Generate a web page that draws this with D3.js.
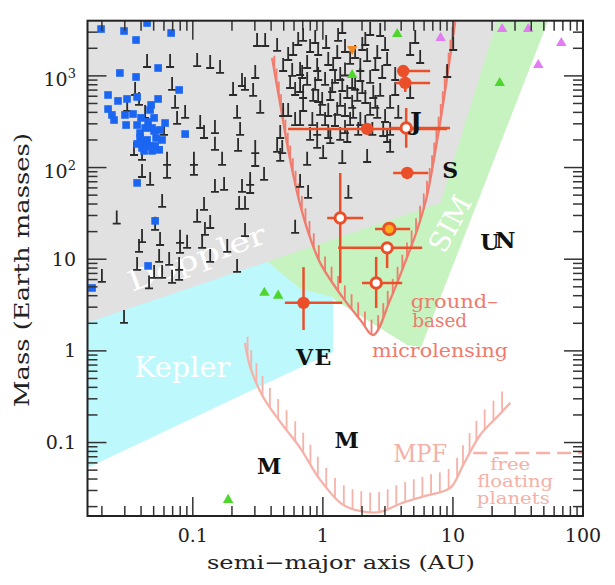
<!DOCTYPE html>
<html><head><meta charset="utf-8">
<script src="https://cdn.jsdelivr.net/npm/d3@7"></script>
<style>body{margin:0;background:#fff}</style>
</head><body>
<svg id="c" width="615" height="585"></svg>
<script>
// ---------------- data (AU, Earth masses) ----------------
const xDomain = [0.0155, 100];
const yDomain = [0.0158, 4000];
const xTickVals = [0.1, 1, 10, 100];
const xTickLabels = ["0.1", "1", "10", "100"];
const yTickVals = [0.1, 1, 10, 100, 1000];
const yTickBase = ["0.1", "1", "10", "10", "10"];
const yTickSup = ["", "", "", "2", "3"];

// Doppler (grey), SIM (green), Kepler (cyan) sensitivity regions
const dopplerA = [0.0155, 21.9, 8.0, 0.0155];
const dopplerM = [4000, 4000, 41, 2.04];
const simA = [0.194, 1.2, 4.45, 5.7, 54, 13.6];
const simM = [3.6, 3.69, 1.16, 1.1, 4000, 4000];
const keplerA = [0.0155, 1.2, 1.2, 0.668, 0.373, 0.0155];
const keplerM = [0.053, 0.975, 3.88, 4.75, 9.46, 3.6];

// ground-based microlensing sensitivity curve
const mlCurveA = [0.407, 0.478, 0.541, 0.646, 0.77, 0.953, 1.41, 1.94, 2.44, 3.29, 4.3, 5.31, 6.34, 7.57, 8.73, 10.4];
const mlCurveM = [1567, 425, 156, 47.8, 19.9, 9.12, 3.88, 2.18, 1.49, 3.6, 9.35, 20.9, 50.3, 200, 702, 3870];
// MPF sensitivity curve
const mpfA = [0.252, 0.276, 0.347, 0.47, 0.668, 0.953, 1.43, 2.12, 2.76, 3.93, 6.12, 9.53, 12.0, 16.2, 21.9, 27.6];
const mpfM = [1.22, 0.669, 0.315, 0.168, 0.0875, 0.0392, 0.0209, 0.0175, 0.0175, 0.0215, 0.0262, 0.0321, 0.0571, 0.121, 0.191, 0.271];
// free-floating planets limit
const freeFloatA = [14.3, 100];
const freeFloatM = [0.077, 0.077];

// radial-velocity planets (minimum masses)
const rvPlanets = [
 [0.0445,1250],[0.0669,1250],[0.108,1280],[0.036,619],[0.0386,482],[0.0693,702],[0.0731,447],[0.0873,348],
 [0.0757,299],[0.0313,414],[0.043,348],[0.114,270],[0.122,210],[0.0601,227],[0.0353,137],[0.0407,121],
 [0.0634,107],[0.102,107],[0.0407,78.9],[0.047,64.6],[0.0634,77.1],[0.102,83],[0.0581,37.2],[0.026,24.5],
 [0.108,25.5],[0.0513,20.9],[0.0407,15.4],[0.0386,12.0],[0.056,14.3],[0.0798,15.1],[0.0798,11.7],[0.0904,13.3],
 [0.0551,9.35],[0.0658,8.67],[0.0373,7.64],[0.0504,6.25],[0.0581,6.25],[0.0785,7.64],[0.0785,5.95],[0.0693,5.52],
 [0.0461,4.8],[0.02,5.65],[0.0296,2.02],
 [0.136,1219],[0.162,1076],[0.312,2118],[0.36,2118],[0.239,776],[0.204,619],[0.252,702],[0.291,604],[0.302,948],
 [0.33,394],[0.219,348],[0.148,238],[0.231,227],[0.148,156],[0.223,152],[0.302,144],[0.168,107],[0.302,104],
 [0.353,73.3],[0.148,54.2],[0.174,57],[0.239,54.2],[0.276,64.6],[0.276,52.8],[0.122,34.5],[0.227,35.4],[0.252,35.4],
 [0.136,21.9],[0.124,18.4],[0.184,12.0],[0.252,17.9],[0.136,9.35],[0.219,7.27],[0.118,13.3],
 [0.445,1871],[0.591,1690],[0.495,1130],[0.581,998],[0.693,948],[0.495,365],[0.541,365],[0.612,291],[0.47,210],
 [0.487,144],[0.47,118],[0.612,19.4],
 [0.705,2404],[0.873,2285],[1.31,2404],[1.41,2937],[2.31,2793],[2.76,2723],[5.13,2285],
 [0.757,1219],[0.904,1130],[1.10,1315],[1.29,1567],[1.77,1567],[2.19,1452],[2.62,1567],[3.12,1315],[5.6,1382],[4.69,1690],
 [0.757,796],[0.873,702],[1.04,796],[1.24,837],[1.41,684],[1.94,879],[2.31,837],[2.86,948],[1.94,1130],
 [0.842,533],[0.988,482],[1.14,546],[1.36,470],[1.54,574],[1.84,533],[2.12,506],[2.44,574],[2.76,604],[3.29,447],[4.69,574],
 [0.705,414],[0.953,375],[1.10,365],[1.29,375],[1.48,365],[1.71,348],[2.31,375],[2.62,348],
 [0.904,227],[1.10,210],[1.48,238],[2.91,221],[3.29,227],
 [0.541,1490],[0.612,619],[0.705,574],[1.62,291],[1.24,284],
 [0.757,107],[1.005,127],[1.41,112],[2.19,115],[0.904,164],[1.14,185],[1.54,190],[3.12,190],[3.29,148],
 [0.668,61.4],[0.77,46.6],[1.57,46.6],[0.445,148],[9.04,973],[10.05,1915],
 [2.01,1915],[0.92,1690],[1.48,1010],[1.77,702],[0.83,291],[1.94,291],[2.4,227],
 [0.646,2173],[0.798,1822],[1.06,2014],[1.2,1159],[1.48,1822],[1.62,1349],[2.12,2173],[2.53,1159],[3.01,1915],
 [3.6,902],[0.668,667],[0.92,902],[1.18,667],[1.68,738],[2.01,650],[2.53,447],[3.01,314],[3.6,619],
 [0.668,291],[0.798,200],[1.04,291],[1.36,200],[1.87,227],[2.12,270],[0.668,1023],[1.36,902],[0.92,519],
 [1.68,447],[3.8,348],[0.56,738]
];

// transiting planets
const transitPlanets = [
 [0.0197,3245],[0.0296,3090],[0.0445,3775],[0.0366,2463],[0.0681,2937],[0.0541,1219],[0.0275,1076],[0.0366,973],
 [0.0785,702],[0.0223,619],[0.0266,533],[0.0312,560],[0.0373,589],[0.0541,560],[0.0478,482],[0.0223,435],
 [0.0239,375],[0.0248,330],[0.0301,375],[0.0347,384],[0.040,348],[0.0307,291],[0.0373,291],[0.0504,348],
 [0.0612,306],[0.043,270],[0.0504,251],[0.0393,238],[0.0873,232],[0.0373,181],[0.0422,185],[0.0461,172],
 [0.0513,172],[0.0486,152],[0.0422,152],[0.0551,156],[0.0445,200],[0.0522,210],[0.0393,210],[0.0373,68],
 [0.0513,26.2],[0.0453,8.45],[0.0168,4.86],[0.0453,314],[0.056,257],[0.0469,425],[0.058,200],[0.0407,164],[0.0486,270]
];

// other detections
const greenTriangles = [[3.73,2860],[1.68,1023],[22.9,836],[0.355,4.3],[0.453,4.0],[0.187,0.0237]];
const magentaTriangles = [[8.04,2590],[23.9,3245],[37.9,3245],[68.1,2285],[45.3,1315]];
const orangeTriangles = [[1.68,1964]];

// microlensing planets: a, M, aLow, aHigh, mLow, mHigh, style
const mlPlanets = [
 [2.19, 264, 0.54, 9.0, 264, 264, "filled"],
 [4.37, 270, 3.3, 9.5, 164, 446, "open"],
 [4.15, 1130, 3.73, 6.68, 1130, 1130, "filled"],
 [4.3, 837, 3.6, 6.68, 667, 1104, "filled"],
 [4.45, 87.3, 3.47, 6.46, 87.3, 87.3, "filled"],
 [1.36, 28.2, 1.08, 2.04, 5.5, 87, "open"],
 [3.24, 21.4, 2.52, 4.69, 21.4, 21.4, "yellow"],
 [3.12, 13.3, 1.31, 5.8, 8.0, 13.3, "open"],
 [2.57, 5.5, 2.0, 4.07, 2.94, 10.6, "open"],
 [0.71, 3.34, 0.51, 1.41, 1.69, 8.2, "filled"]
];

// solar system planets (positions as drawn)
const solarNames = ["M", "V", "E", "M", "J", "S", "U", "N"];
const solarA = [0.387, 0.723, 1.0, 1.524, 5.2, 9.54, 19.2, 25.3];
const solarM = [0.055, 0.86, 0.86, 0.107, 318, 95.2, 15.4, 16.2];

// ---------------- drawing ----------------
const FONT = "'DejaVu Serif', 'Liberation Serif', serif";
const L = 87.5, R = 583, T = 20.7, B = 516;
const svg = d3.select('#c');
const x = d3.scaleLog().domain(xDomain).range([L, R]);
const y = d3.scaleLog().domain(yDomain).range([B, T]);

svg.append('rect').attr('width', 615).attr('height', 585).attr('fill', '#fff');
svg.append('clipPath').attr('id', 'clip').append('rect')
  .attr('x', L).attr('y', T).attr('width', R - L).attr('height', B - T);
const plot = svg.append('g').attr('clip-path', 'url(#clip)');

const pts = (A, M) => A.map((a, i) => [x(a), y(M[i])]);
function poly(A, M, fill) {
  plot.append('path').attr('d', d3.line()(pts(A, M)) + 'Z').attr('fill', fill);
}
poly(simA, simM, '#c6f3c0');
poly(keplerA, keplerM, '#bdf8fc');
poly(dopplerA, dopplerM, '#e1e1e1');

function label(g, txt, px, py, rot, size, len, opts = {}) {
  const t = g.append('text').attr('transform', `translate(${px},${py}) rotate(${rot})`)
    .attr('font-family', FONT).attr('font-size', size).attr('fill', opts.fill || '#fff')
    .attr('text-anchor', opts.anchor || 'middle')
    .attr('font-weight', opts.weight || 'normal')
    .text(txt);
  if (opts.central) t.attr('dominant-baseline', 'central');
  if (len) t.attr('textLength', len).attr('lengthAdjust', 'spacingAndGlyphs');
  return t;
}
label(plot, 'Doppler', x(0.114), y(8.24), -20, 28, 145);
label(plot, 'Kepler', x(0.0354), y(0.52), 0, 27, 96, {anchor: 'start'});
label(plot, 'SIM', x(9.53), y(24.3), -62, 28, 60, {central: true});

// sensitivity curves with hatching (vertical ticks on the inner side)
const curve = d3.line().curve(d3.curveCatmullRom.alpha(0.5));
function hatched(A, M, color, dxStep, arcStep, len) {
  const p = plot.append('path').attr('d', curve(pts(A, M))).attr('fill', 'none')
    .attr('stroke', color).attr('stroke-width', 2.3);
  const node = p.node(), tot = node.getTotalLength();
  const g = plot.append('g').attr('stroke', color).attr('stroke-width', 1.8);
  let last = node.getPointAtLength(0), lastS = 0;
  for (let s = 1; s < tot; s += 0.5) {
    const q = node.getPointAtLength(s);
    if (Math.abs(q.x - last.x) >= dxStep || s - lastS >= arcStep) {
      g.append('line').attr('x1', q.x).attr('y1', q.y).attr('x2', q.x).attr('y2', q.y - len);
      last = q; lastS = s;
    }
  }
}
hatched(mlCurveA, mlCurveM, '#f07c6e', 6.5, 13, 15);
hatched(mpfA, mpfM, '#f6b2a9', 8.5, 14, 20);
plot.append('path').attr('d', d3.line()(pts(freeFloatA, freeFloatM)))
  .attr('stroke', '#f6b2a9').attr('stroke-width', 2.5).attr('stroke-dasharray', '14,7').attr('fill', 'none');

// RV planets
const rv = plot.append('g').attr('stroke', '#2a2a2a').attr('stroke-width', 1.8).attr('fill', 'none');
rvPlanets.forEach(([a, m]) => {
  const px = x(a), py = y(m);
  rv.append('path').attr('d', `M${px - 4},${py}H${px + 4}M${px},${py}V${py - 13}`);
});

// transiting planets
plot.append('g').selectAll('rect').data(transitPlanets).join('rect')
  .attr('x', d => x(d[0]) - 3.8).attr('y', d => y(d[1]) - 3.8)
  .attr('width', 7.6).attr('height', 7.6).attr('fill', '#1a66f2');

// triangles
function tri(data, color, rot) {
  plot.append('g').selectAll('path').data(data).join('path')
    .attr('d', d3.symbol(d3.symbolTriangle, 48)())
    .attr('transform', d => `translate(${x(d[0])},${y(d[1])}) rotate(${rot})`)
    .attr('fill', color);
}
tri(greenTriangles, '#4fd62c', 0);
tri(magentaTriangles, '#e27cf2', 0);
tri(orangeTriangles, '#ef8a2a', 180);

// microlensing planets
const RED = '#ea4f2a';
const eb = plot.append('g').attr('stroke', RED).attr('stroke-width', 2.5);
mlPlanets.forEach(d => {
  const [a, m, a0, a1, m0, m1] = d;
  eb.append('line').attr('x1', x(a0)).attr('x2', x(a1)).attr('y1', y(m)).attr('y2', y(m));
  if (m0 !== m1) eb.append('line').attr('x1', x(a)).attr('x2', x(a)).attr('y1', y(m0)).attr('y2', y(m1));
});
mlPlanets.forEach(d => {
  const c = plot.append('circle').attr('cx', x(d[0])).attr('cy', y(d[1]));
  if (d[6] === 'filled') c.attr('r', 6.2).attr('fill', RED);
  else if (d[6] === 'open') c.attr('r', 5.2).attr('fill', '#fff').attr('stroke', RED).attr('stroke-width', 3);
  else c.attr('r', 5.8).attr('fill', '#ffad1a').attr('stroke', RED).attr('stroke-width', 3);
});

// solar system letters
solarNames.forEach((n, i) => {
  label(svg, n, x(solarA[i]), y(solarM[i]), 0, n === 'J' ? 25 : 22, null,
    {fill: '#111', weight: 'bold', central: true});
});

// method labels
const SAL = '#f07a6c', PINK = '#f5b0a7';
label(svg, 'ground–', x(4.73), y(2.94), 0, 19, 87, {fill: SAL, anchor: 'start'});
label(svg, 'based', x(4.86), y(1.83), 0, 19, 55, {fill: SAL, anchor: 'start'});
label(svg, 'microlensing', x(2.39), y(0.86), 0, 19, 136, {fill: SAL, anchor: 'start'});
label(svg, 'MPF', x(3.47), y(0.0616), 0, 24, 54, {fill: PINK, anchor: 'start'});
label(svg, 'free', x(27.6), y(0.0504), 0, 16, 40, {fill: PINK});
label(svg, 'floating', x(30.1), y(0.0329), 0, 16, 76, {fill: PINK});
label(svg, 'planets', x(29.1), y(0.0215), 0, 16, 73, {fill: PINK});

// axes: frame and inward ticks on all sides
const ax = svg.append('g').attr('stroke', '#333').attr('stroke-width', 1.5);
const isMajor = v => Math.abs(Math.log10(v) - Math.round(Math.log10(v))) < 1e-6;
x.ticks().forEach(v => {
  const px = x(v), len = isMajor(v) ? 19 : 10;
  if (px < L + 1 || px > R - 1) return;
  ax.append('line').attr('x1', px).attr('x2', px).attr('y1', B).attr('y2', B - len);
  ax.append('line').attr('x1', px).attr('x2', px).attr('y1', T).attr('y2', T + len);
});
y.ticks().forEach(v => {
  const py = y(v), len = isMajor(v) ? 19 : 10;
  if (py < T + 1 || py > B - 1) return;
  ax.append('line').attr('y1', py).attr('y2', py).attr('x1', L).attr('x2', L + len);
  ax.append('line').attr('y1', py).attr('y2', py).attr('x1', R).attr('x2', R - len);
});
svg.append('rect').attr('x', L).attr('y', T).attr('width', R - L).attr('height', B - T)
  .attr('fill', 'none').attr('stroke', '#222').attr('stroke-width', 2);

// tick labels
xTickVals.forEach((v, i) => {
  svg.append('text').attr('x', x(v)).attr('y', 542).attr('text-anchor', 'middle')
    .attr('font-family', FONT).attr('font-size', 19).attr('fill', '#222').text(xTickLabels[i]);
});
yTickVals.forEach((v, i) => {
  const t = svg.append('text').attr('x', 76).attr('y', y(v) + (yTickSup[i] ? 10 : 6.5))
    .attr('text-anchor', 'end').attr('font-family', FONT).attr('font-size', 19).attr('fill', '#222');
  t.append('tspan').text(yTickBase[i]);
  if (yTickSup[i]) t.append('tspan').attr('dy', -8).attr('font-size', 13).text(yTickSup[i]);
});

// axis titles
svg.append('text').attr('x', 207).attr('y', 569).attr('font-family', FONT).attr('font-size', 19)
  .attr('fill', '#222').attr('textLength', 268).attr('lengthAdjust', 'spacingAndGlyphs')
  .text('semi−major axis (AU)');
svg.append('text').attr('transform', 'translate(29,270) rotate(-90)').attr('text-anchor', 'middle')
  .attr('font-family', FONT).attr('font-size', 20).attr('fill', '#222')
  .attr('textLength', 274).attr('lengthAdjust', 'spacingAndGlyphs')
  .text('Mass (Earth masses)');
</script>
</body></html>
